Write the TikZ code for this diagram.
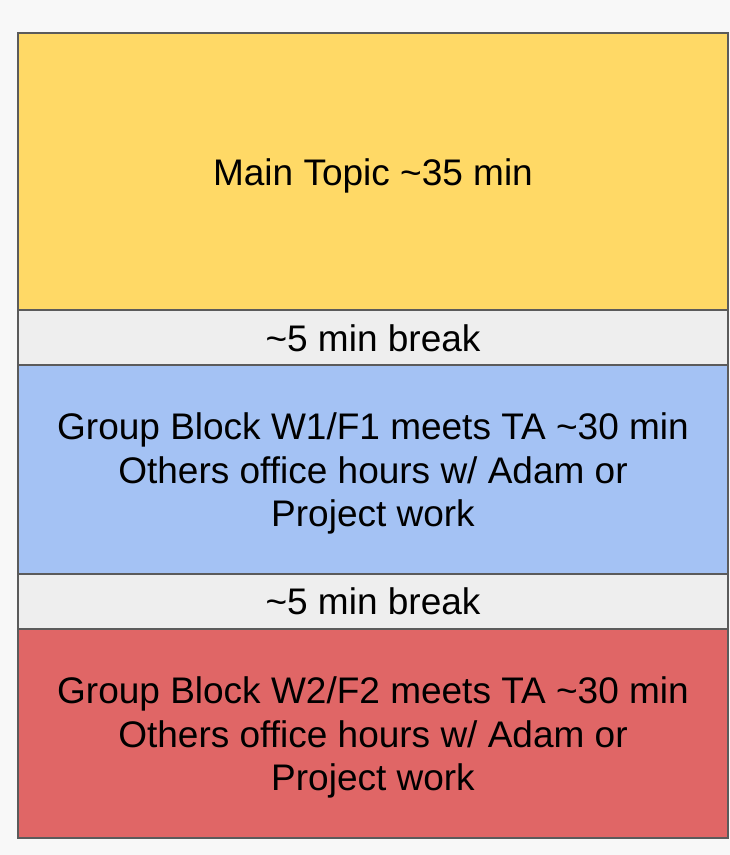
\documentclass[tikz,border=0pt]{standalone}
\usepackage{fontspec}
\setmainfont{Liberation Sans}
\usetikzlibrary{positioning}

\definecolor{topicyellow}{HTML}{FFD966}
\definecolor{groupblue}{HTML}{A4C2F4}
\definecolor{groupred}{HTML}{E06666}
\definecolor{breakgray}{HTML}{EEEEEE}
\definecolor{edgegray}{HTML}{5B5B5B}
\definecolor{pagegray}{HTML}{F8F8F8}

\begin{document}
\begin{tikzpicture}[x=1pt, y=-1pt,
    block/.style={
        draw=edgegray,
        line width=2pt,
        minimum width=710pt,
        outer sep=0pt,
        inner sep=0pt,
        align=center,
        font=\fontsize{37}{43.5}\selectfont
    },
    topic/.style={
        block,
        fill=topicyellow,
        minimum height=277pt
    },
    pause/.style={
        block,
        fill=breakgray,
        minimum height=55pt
    },
    group/.style={
        block,
        minimum height=209pt
    }
]

%------------------------------------------------
% Parámetros
%------------------------------------------------
\def\lift{\rule{0pt}{35pt}} % baja un poco el texto
\def\liftsmall{\rule{0pt}{29pt}}

%------------------------------------------------
% Fondo
%------------------------------------------------
\fill[pagegray] (0,0) rectangle (730,855);
\useasboundingbox (0,0) rectangle (730,855);

%------------------------------------------------
% Bloques de la sesión
%------------------------------------------------
\node[topic, anchor=north west] (topic) at (18,33) {\lift Main Topic \textasciitilde35 min};

\node[pause, below=0pt of topic] (break1) {\liftsmall\textasciitilde5 min break};

\node[group, fill=groupblue, below=0pt of break1] (groupA)
    {\lift Group Block W1/F1 meets TA \textasciitilde30 min\\
     Others office hours w/ Adam or\\
     Project work};

\node[pause, below=0pt of groupA] (break2) {\textasciitilde5 min break};

\node[group, fill=groupred, below=0pt of break2] (groupB)
    {\lift Group Block W2/F2 meets TA \textasciitilde30 min\\
     Others office hours w/ Adam or\\
     Project work};

\end{tikzpicture}
\end{document}
